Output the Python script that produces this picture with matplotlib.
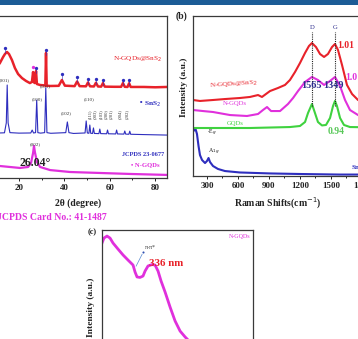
import matplotlib
matplotlib.use("Agg")
import matplotlib.pyplot as plt
from matplotlib.patches import Rectangle

W, H = 358, 339
fig = plt.figure(figsize=(W/100, H/100), dpi=100)
fig.patch.set_facecolor("white")
SERIF = ["Liberation Serif", "DejaVu Serif"]
plt.rcParams["font.family"] = SERIF

def ax_px(l, t, r, b):
    return fig.add_axes([l/W, 1-b/H, (r-l)/W, (b-t)/H])

def ftext(x, y, s, **kw):
    fig.text(x/W, 1-y/H, s, **kw)

RED = "#e8222a"; BLUE = "#2e2ebe"; MAG = "#e030dc"; GREEN = "#3fd23f"; NAVY = "#2b2b8c"

# ---------------- data: (a) XRD ----------------
xrd_2theta_red = [11.6, 13.0, 13.8, 14.7, 15.6, 16.9, 18.2, 19.6, 21.3, 23.1, 24.8, 25.7, 26.2, 26.6, 27.0,
                  27.5, 27.9, 29.3, 31.0, 31.6, 31.9, 32.2, 33.7, 37.5, 38.9, 40.2, 44.5, 45.6, 46.7,
                  49.5, 50.4, 51.3, 53.0, 53.9, 54.8, 56.2, 57.0, 57.8, 62.0, 65.0, 65.8, 66.6, 67.8,
                  68.5, 69.2, 75.0, 80.0, 85.2]
xrd_int_red = [71.0, 74.7, 76.5, 77.8, 76.5, 72.8, 67.9, 64.2, 61.7, 59.9, 58.6, 59.3, 65.4, 59.0, 58.6,
               66.0, 58.0, 57.4, 57.2, 57.0, 77.2, 57.0, 56.8, 56.9, 60.5, 57.0, 56.7, 59.6, 56.7,
               56.6, 59.0, 56.6, 56.5, 58.8, 56.5, 56.4, 58.6, 56.4, 56.3, 56.3, 58.6, 56.3, 56.2,
               58.5, 56.2, 56.2, 56.0, 56.2]

xrd_2theta_blue = [11.6, 13.6, 14.4, 14.8, 15.2, 16.0, 20.0, 25.2, 25.8, 26.4, 27.3, 27.8, 28.3, 29.5,
                   31.3, 31.8, 32.3, 34.0, 40.6, 41.3, 42.0, 44.0, 49.1, 49.6, 50.1, 50.8, 51.2, 51.6,
                   52.4, 52.8, 53.2, 55.2, 55.6, 56.0, 58.6, 59.0, 59.4, 62.6, 63.0, 63.4, 66.2, 66.6,
                   67.0, 68.4, 68.8, 69.2, 75.0, 85.2]
xrd_int_blue = [27.8, 27.9, 34.0, 57.4, 34.0, 28.0, 27.7, 27.8, 29.6, 27.8, 28.0, 48.1, 28.0, 27.7,
                28.0, 55.6, 28.0, 27.6, 28.0, 34.6, 28.0, 27.5, 27.8, 35.2, 27.8, 27.6, 32.7, 27.6,
                27.5, 30.9, 27.5, 27.4, 30.2, 27.4, 27.3, 29.6, 27.3, 27.2, 29.6, 27.2, 27.1, 29.0,
                27.1, 27.0, 28.9, 27.0, 26.8, 26.5]

xrd_2theta_mag = [11.6, 16.0, 20.4, 24.0, 25.3, 26.2, 26.6, 27.0, 27.9, 29.3, 33.7, 42.5, 55.7, 68.9, 85.2]
xrd_int_mag = [7.4, 6.8, 6.2, 6.8, 9.3, 15.4, 19.8, 16.0, 9.9, 6.8, 4.9, 3.7, 3.1, 2.5, 1.9]

# peak markers on N-GQDs@SnS2 (2theta, marker height)
marker_2theta = [13.8, 27.5, 31.9, 38.9, 45.6, 50.4, 53.9, 57.0, 65.8, 68.5]
marker_int = [80.0, 67.9, 79.0, 64.2, 62.3, 61.0, 61.0, 60.5, 60.5, 60.5]
marker_gqd_2theta = [26.2]
marker_gqd_int = [68.5]

hkl_main = ["(001)", "(100)", "(101)", "(102)", "(110)", "(002)"]
hkl_main_pos = [(13.4, 60.5), (28.1, 48.8), (31.7, 56.5), (40.8, 40.0), (50.7, 48.8), (27.0, 21.0)]
hkl_vert = ["(111)", "(003)", "(103)", "(200)", "(201)", "(004)", "(202)"]
hkl_vert_pos = [51.3, 53.6, 56.0, 58.1, 60.3, 64.6, 67.4]

# ---------------- data: (b) Raman ----------------
raman_shift_red = [164.5, 232, 358, 474, 619, 716, 794, 832, 910, 987, 1055, 1103, 1152, 1200, 1249,
                   1287, 1316, 1355, 1394, 1433, 1471, 1510, 1539, 1568, 1607, 1655, 1704, 1762, 1878, 1994]
raman_int_red = [47.5, 46.9, 47.5, 48.1, 48.75, 49.4, 50.6, 49.4, 53.1, 55.0, 56.9, 60.0, 65.0, 70.6, 76.9,
                 81.25, 83.1, 80.6, 76.25, 74.4, 76.25, 80.6, 82.5, 78.75, 69.4, 56.9, 51.25, 47.5, 45.0, 44.4]

raman_shift_mag = [164.5, 261, 358, 523, 687, 794, 842, 881, 920, 1007, 1084, 1133, 1181, 1249, 1316,
                   1374, 1433, 1491, 1539, 1588, 1636, 1684, 1762, 1878, 1994]
raman_int_mag = [41.25, 40.6, 40.0, 38.1, 37.5, 38.75, 41.25, 43.1, 40.6, 40.6, 45.0, 48.75, 53.1, 58.75,
                 61.9, 60.0, 56.9, 59.4, 61.9, 56.25, 47.5, 41.25, 38.1, 36.25, 35.6]

raman_shift_green = [174, 716, 1103, 1200, 1249, 1278, 1316, 1345, 1374, 1413, 1452, 1491, 1520, 1539,
                     1558, 1588, 1626, 1684, 1994]
raman_int_green = [30.0, 30.0, 30.6, 31.25, 33.75, 39.4, 45.0, 39.4, 33.75, 31.6, 31.9, 36.25, 43.75,
                   46.9, 43.75, 36.25, 31.9, 30.6, 30.3]

raman_shift_blue = [169, 189, 203, 218, 232, 252, 281, 300, 315, 329, 358, 406, 474, 619, 910, 1200,
                    1587, 1994]
raman_int_blue = [28.1, 29.4, 26.25, 18.75, 13.1, 10.0, 8.1, 9.4, 11.25, 8.75, 6.25, 4.4, 3.1, 2.2,
                  1.6, 1.25, 0.9, 0.9]

raman_DG = [1316, 1539]
raman_ticks = [300, 600, 900, 1200, 1500, 1800]

# ---------------- data: (c) UV-vis ----------------
uv_nm = [220, 224.6, 231.6, 238.6, 245.5, 257.1, 268.7, 280.3, 291.9, 296.6, 301.2, 308.2, 315.1,
         319.8, 326.7, 336.0, 343.0, 349.9, 356.9, 366.2, 377.8, 389.4, 401.0, 412.6, 424.2, 435.8, 459.0]
uv_abs = [0.916, 0.948, 0.961, 0.948, 0.916, 0.877, 0.839, 0.806, 0.774, 0.729, 0.697, 0.694, 0.703,
          0.735, 0.768, 0.777, 0.774, 0.735, 0.671, 0.600, 0.503, 0.413, 0.348, 0.310, 0.277, 0.245, 0.19]

# ---------------- header bar ----------------
fig.patches.append(Rectangle((0, 1-5/H), 1, 5/H, transform=fig.transFigure,
                             facecolor="#1c5c96", edgecolor="none"))

def style_axes(ax):
    for s in ax.spines.values():
        s.set_color("#3a3a3a"); s.set_linewidth(0.9)
    ax.set_yticks([])
    ax.tick_params(axis="x", which="major", length=2.5, width=0.7, direction="out", pad=1.5,
                   labelsize=6.5, colors="#222222")
    ax.tick_params(axis="x", which="minor", length=1.5, width=0.6, direction="out")

# ---------------- panel (a) ----------------
axa = ax_px(-3.7, 16, 167, 178)
axa.set_xlim(10, 85.2); axa.set_ylim(0, 100)
axa.plot(xrd_2theta_mag, xrd_int_mag, color=MAG, lw=1.6)
axa.plot(xrd_2theta_blue, xrd_int_blue, color=BLUE, lw=0.8)
axa.plot(xrd_2theta_red, xrd_int_red, color=RED, lw=1.8)
for xm, ym in zip(marker_2theta, marker_int):
    axa.plot([xm, xm], [ym, ym - 3], color=BLUE, lw=0.4)
axa.plot(marker_2theta, marker_int, "o", color=BLUE, ms=2.4, mec="none")
axa.plot(marker_gqd_2theta, marker_gqd_int, "o", color=MAG, ms=2.4, mec="none")
axa.set_xticks([20, 40, 60, 80])
axa.set_xticks([30, 50, 70], minor=True)
style_axes(axa)
axa.set_xticklabels(["20", "40", "60", "80"], fontweight="bold")
for s, (xp, yp) in zip(hkl_main, hkl_main_pos):
    axa.text(xp, yp, s, fontsize=3.6, color="#333333", ha="center", va="center")
for s, xp in zip(hkl_vert, hkl_vert_pos):
    axa.text(xp, 39.5, s, fontsize=3.3, color="#333333", rotation=90, ha="center", va="center")
axa.text(83, 73.5, "N-GQDs@SnS$_2$", fontsize=5.2, color=RED, ha="right", va="center")
axa.text(83, 45.7, "• SnS$_2$", fontsize=5.4, color=BLUE, ha="right", va="center", fontweight="bold")
axa.text(84, 14.8, "JCPDS 23-0677", fontsize=4.6, color=BLUE, ha="right", va="center", fontweight="bold")
axa.text(82, 8.0, "• N-GQDs", fontsize=4.8, color=MAG, ha="right", va="center", fontweight="bold")
axa.text(20.4, 9.3, "26.04°", fontsize=8.6, color="#222222", ha="left", va="center", fontweight="bold")
ftext(78, 203, "2θ (degree)", fontsize=7, fontweight="bold", ha="center", va="center", color="#222222")
ftext(-3, 217, "JCPDS Card No.: 41-1487", fontsize=7, fontweight="bold", ha="left", va="center",
      color=MAG)

# ---------------- panel (b) ----------------
axb = ax_px(193, 16, 382, 176)
axb.set_xlim(164.5, 1994); axb.set_ylim(0, 100)
axb.plot(raman_shift_blue, raman_int_blue, color=BLUE, lw=1.5)
axb.plot(raman_shift_green, raman_int_green, color=GREEN, lw=1.5)
axb.plot(raman_shift_mag, raman_int_mag, color=MAG, lw=1.5)
axb.plot(raman_shift_red, raman_int_red, color=RED, lw=1.5)
for xv in raman_DG:
    axb.plot([xv, xv], [44, 90], color="#222222", lw=0.8, ls=(0, (1, 1)))
axb.text(raman_DG[0], 93, "D", fontsize=4.8, color=NAVY, ha="center", va="center")
axb.text(raman_DG[1], 93, "G", fontsize=4.8, color=NAVY, ha="center", va="center")
axb.set_xticks(raman_ticks)
axb.set_xticks([450, 750, 1050, 1350, 1650], minor=True)
style_axes(axb)
axb.set_xticklabels([str(t) for t in raman_ticks], fontweight="bold")
axb.text(1560, 81.5, "1.01", fontsize=7, color=RED, ha="left", va="center", fontweight="bold")
axb.text(1640, 61.5, "1.0", fontsize=7, color=MAG, ha="left", va="center", fontweight="bold")
axb.text(1210, 56.5, "1565", fontsize=7.4, color=NAVY, ha="left", va="center", fontweight="bold")
axb.text(1420, 56.5, "1349", fontsize=7.4, color=NAVY, ha="left", va="center", fontweight="bold")
axb.text(1470, 27.5, "0.94", fontsize=7, color="#58c858", ha="left", va="center", fontweight="bold")
axb.text(320, 57.0, "N-GQDs@SnS$_2$", fontsize=5, color=RED, ha="left", va="center", rotation=4)
axb.text(450, 45.5, "N-GQDs", fontsize=4.8, color=MAG, ha="left", va="center")
axb.text(490, 33.0, "GQDs", fontsize=4.8, color=GREEN, ha="left", va="center")
axb.text(300, 27.0, "-E$_g$", fontsize=4.3, color="#222222", ha="left", va="center")
axb.text(305, 15.0, "A$_{1g}$", fontsize=4.3, color="#222222", ha="left", va="center")
axb.text(1690, 5.0, "SnS$_2$", fontsize=5, color=BLUE, ha="left", va="center", fontweight="bold")
ftext(278, 203, "Raman Shifts(cm$^{-1}$)", fontsize=7, fontweight="bold", ha="center", va="center",
      color="#222222")
ftext(183.5, 87, "Intensity (a.u.)", fontsize=6.8, fontweight="bold", rotation=90, ha="center",
      va="center", color="#222222")
ftext(181, 16, "(b)", fontsize=7, fontweight="bold", ha="center", va="center", color="#222222")

# ---------------- panel (c) ----------------
axc = ax_px(102, 230, 253, 385)
axc.set_xlim(220, 570); axc.set_ylim(0, 1)
axc.plot(uv_nm, uv_abs, color=MAG, lw=2.0)
for s in axc.spines.values():
    s.set_color("#3a3a3a"); s.set_linewidth(0.9)
axc.set_xticks([]); axc.set_yticks([])
axc.annotate("", xy=(296, 0.75), xytext=(316, 0.86),
             arrowprops=dict(arrowstyle="-", color="#5a8ad0", lw=0.5))
axc.plot([316], [0.86], "o", color="#2e4fb0", ms=1.5, mec="none")
axc.text(320, 0.885, "π-π*", fontsize=4.2, color="#333333", ha="left", va="center")
axc.text(328, 0.785, "336 nm", fontsize=7.8, color=RED, ha="left", va="center", fontweight="bold")
axc.text(565, 0.955, "N-GQDs", fontsize=4.3, color=MAG, ha="right", va="center")
ftext(90.5, 307, "Intensity (a.u.)", fontsize=6.8, fontweight="bold", rotation=90, ha="center",
      va="center", color="#222222")
ftext(92, 232, "(c)", fontsize=6, fontweight="bold", ha="center", va="center", color="#222222")

fig.savefig("out.png", dpi=100, facecolor="white")
